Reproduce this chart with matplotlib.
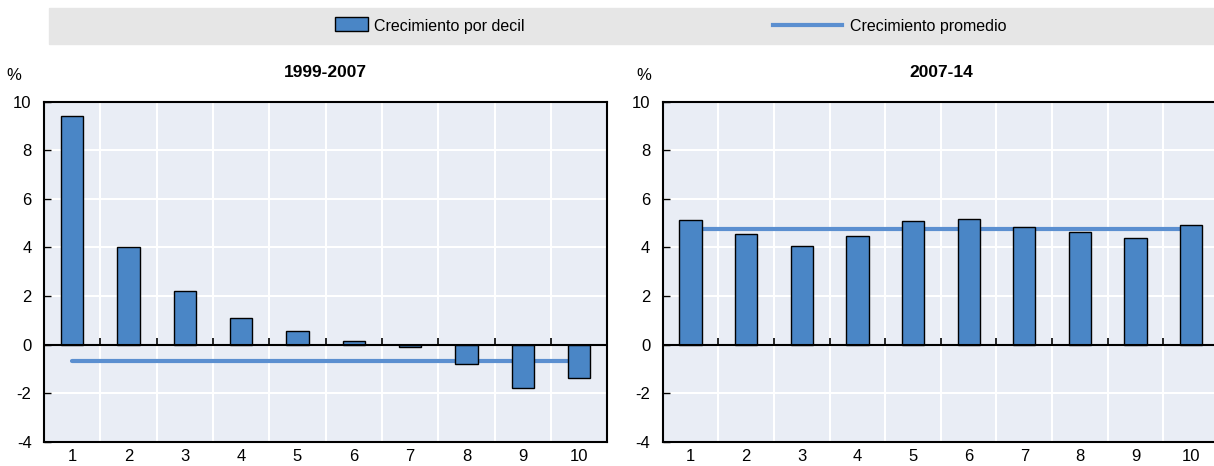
import matplotlib
matplotlib.use("Agg")
import matplotlib.pyplot as plt
from matplotlib.patches import Rectangle
from matplotlib.lines import Line2D

plt.rcParams['font.family'] = ['Liberation Sans', 'DejaVu Sans']
plt.rcParams['axes.unicode_minus'] = False

deciles = [1, 2, 3, 4, 5, 6, 7, 8, 9, 10]
growth_1999_2007 = [9.4, 4.02, 2.22, 1.1, 0.54, 0.15, -0.11, -0.81, -1.77, -1.36]
avg_1999_2007 = -0.66
growth_2007_14 = [5.14, 4.57, 4.07, 4.46, 5.09, 5.18, 4.84, 4.62, 4.37, 4.93]
avg_2007_14 = 4.76
titles = ["1999-2007", "2007-14"]
legend_labels = ["Crecimiento por decil", "Crecimiento promedio"]

bar_color = '#4a86c6'
line_color = '#5b8fd0'
bg_color = '#e9edf5'

W, H = 1214, 466
fig = plt.figure(figsize=(W / 100, H / 100), dpi=100)

# legend band on top
fig.patches.append(Rectangle((49 / W, 1 - 44 / H), 1 - 49 / W, 36 / H,
                             transform=fig.transFigure, color='#e6e6e6', zorder=0))
fig.patches.append(Rectangle((335 / W, 1 - 31 / H), 33 / W, 14 / H,
                             transform=fig.transFigure, facecolor=bar_color,
                             edgecolor='black', linewidth=1, zorder=1))
fig.text(374 / W, 1 - 26 / H, legend_labels[0], fontsize=11.5, va='center', ha='left')
fig.lines.append(Line2D([773 / W, 842 / W], [1 - 25 / H, 1 - 25 / H],
                        transform=fig.transFigure, color=line_color, linewidth=3))
fig.text(850 / W, 1 - 26 / H, legend_labels[1], fontsize=11.5, va='center', ha='left')

boxes = [(44, 607.3), (662.7, 1219)]
pct_x = [14, 644]
series = [(growth_1999_2007, avg_1999_2007), (growth_2007_14, avg_2007_14)]
top, bottom = 101.7, 441.7

for (x0, x1), px, (vals, avg), title in zip(boxes, pct_x, series, titles):
    ax = fig.add_axes([x0 / W, 1 - bottom / H, (x1 - x0) / W, (bottom - top) / H])
    ax.set_facecolor(bg_color)
    ax.set_xlim(0.5, 10.5)
    ax.set_ylim(-4, 10)
    ax.set_yticks(range(-4, 11, 2))
    ax.set_xticks(deciles)
    bounds = [d + 0.5 for d in deciles[:-1]]
    ax.set_xticks(bounds, minor=True)
    ax.grid(True, axis='y', which='major', color='white', linewidth=1.5)
    ax.grid(True, axis='x', which='minor', color='white', linewidth=1.5)
    ax.set_axisbelow(True)
    ax.tick_params(axis='x', which='both', length=0, labelsize=12, pad=5)
    ax.tick_params(axis='y', direction='in', length=5, width=1, labelsize=12, pad=9)
    for s in ax.spines.values():
        s.set_linewidth(1.5)
        s.set_color('black')

    ax.plot([deciles[0], deciles[-1]], [avg, avg], color=line_color, linewidth=3,
            solid_capstyle='round', zorder=2)
    ax.bar(deciles, vals, width=0.4, color=bar_color, edgecolor='black',
           linewidth=1, zorder=3)
    ax.axhline(0, color='black', linewidth=1.5, zorder=4)
    ax.plot(bounds, [0] * len(bounds), linestyle='none', marker=2, markersize=5,
            markeredgewidth=1.2, color='black', zorder=4)

    ax.set_title(title, fontsize=12.5, fontweight='bold', pad=18)
    fig.text(px / W, 1 - 75 / H, '%', fontsize=12, ha='center', va='center')

fig.savefig('out.png', dpi=100)
